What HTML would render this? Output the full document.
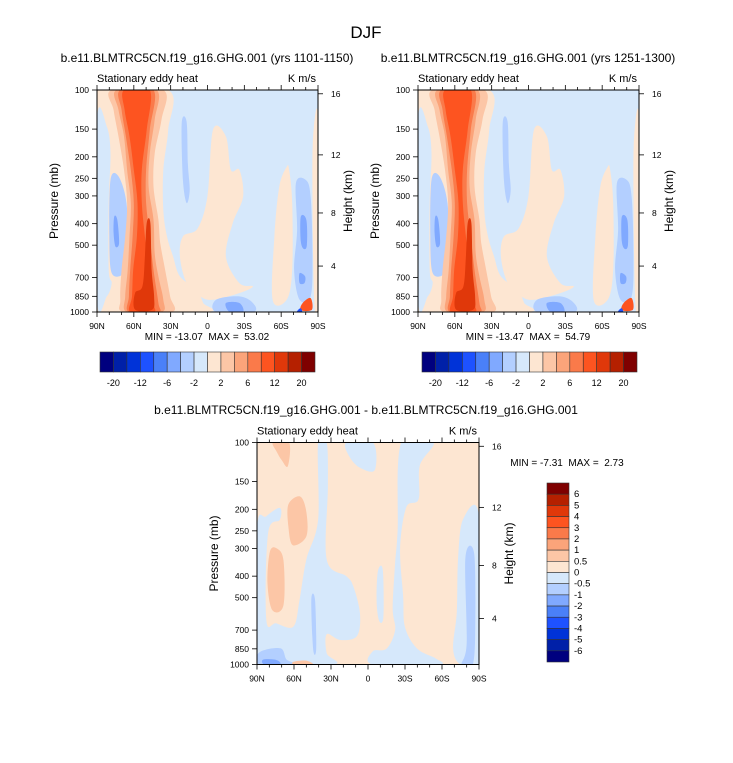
<!DOCTYPE html>
<html><head><meta charset="utf-8">
<style>
body{margin:0;background:#fff;}
svg text{font-family:"Liberation Sans",Arial,sans-serif;fill:#000;white-space:pre;}
</style></head>
<body>
<svg id="fig" width="733" height="758" viewBox="0 0 733 758" xmlns="http://www.w3.org/2000/svg">
<text x="366" y="38" font-size="17" text-anchor="middle">DJF</text>
<text x="207" y="62" font-size="12" text-anchor="middle">b.e11.BLMTRC5CN.f19_g16.GHG.001 (yrs 1101-1150)</text>
<text x="528" y="62" font-size="12" text-anchor="middle">b.e11.BLMTRC5CN.f19_g16.GHG.001 (yrs 1251-1300)</text>
<text x="366" y="414" font-size="12" text-anchor="middle">b.e11.BLMTRC5CN.f19_g16.GHG.001 - b.e11.BLMTRC5CN.f19_g16.GHG.001</text>
<g id="layer"></g>
</svg>
<script>
// ---- data ----
const colors=["#00007f","#0020a8","#0033d8","#1e52ff","#4a80f8","#80a9ff","#b3cfff","#d6e8fb","#fde6d2","#fcc6a6","#fba47a","#fa7a4a","#fd5420","#e0380a","#b52000","#7f0000"];
const topCbLabels=["-20","-12","-6","-2","2","6","12","20"];
const diffCbLabels=["6","5","4","3","2","1","0.5","0","-0.5","-1","-2","-3","-4","-5","-6"];
const latTicks=[90,60,30,0,-30,-60,-90];
const latTickLabels=["90N","60N","30N","0","30S","60S","90S"];
const presTicks=[100,150,200,250,300,400,500,700,850,1000];
const heightTicks=[16,12,8,4];
const heightPres=[104,196,358,621];
const minmax1=["-13.07","53.02"], minmax2=["-13.47","54.79"], minmaxD=["-7.31","2.73"];

// contour regions: [colorIndex, [[lat,p],...]]
const baseShapes=[
[8,[[90,100],[32,100],[32,151],[36,229],[36,347],[33,457],[28,563],[22.5,691],[9,794],[3.5,911],[1,1000],[90,1000]]],
[8,[[-4.5,151],[-15,162],[-19,229],[-26,229],[-29,302],[-20.5,398],[-15,563],[-26,741],[-37,767],[-26,822],[-4.5,881],[6,851],[17,741],[22.5,563],[20,457],[8,420],[0,300]]],
[8,[[-64.5,222],[-66.5,229],[-69,323],[-69,645],[-64.5,881],[-53,881],[-54.5,457],[-58.5,272]]],
[8,[[-86,162],[-90,136],[-90,911],[-87,911],[-85.5,323]]],
[7,[[90,136],[82,146],[79,193],[80.5,323],[80.5,645],[78,741],[82,851],[90,881]]],
[6,[[79,254],[72.5,245],[66,323],[65,544],[68,668],[78,668],[80,457]]],
[5,[[76,372],[73.5,384],[72,489],[75,507],[76.5,440]]],
[9,[[78,100],[36,100],[37.5,136],[43,193],[44,272],[40,384],[38.5,489],[34.5,645],[30.5,851],[29,1000],[68,1000],[71,881],[70,645],[67,457],[65.5,323],[68,229],[72.5,162],[76.5,123]]],
[10,[[74,100],[41.5,100],[43,136],[47,193],[48,272],[44,384],[43,544],[40,691],[36,881],[37.5,1000],[65.5,1000],[67,851],[65,645],[63.5,457],[62.5,323],[65.5,229],[68,162],[72.5,123]]],
[11,[[71,100],[44,100],[47,151],[50,229],[50,323],[47,457],[44,645],[40,911],[40,1000],[64,1000],[64,851],[63,645],[61,457],[60,323],[62.5,229],[66.5,162],[70,123]]],
[12,[[68,100],[47,100],[49.5,151],[53.5,229],[53.5,323],[51,457],[48,645],[44,911],[44,1000],[63,1000],[61.5,851],[60.5,645],[57.5,457],[57,323],[60,229],[63.5,162],[67.5,123]]],
[13,[[49.5,398],[46.5,398],[45.5,645],[43.5,851],[45,975],[59,975],[59,822],[53,767],[51,563]]],
[6,[[-72,263],[-80,254],[-84,302],[-85.5,563],[-84,851],[-75,881],[-70.5,645],[-73,427]]],
[5,[[-76,372],[-80.5,384],[-81,498],[-78.5,520],[-76,480]]],
[5,[[-75,668],[-79.5,691],[-79,741],[-75,741]]],
[6,[[-7,881],[-26,851],[-37,911],[-37,1000],[-7,1000]]],
[5,[[-15,911],[-26,911],[-29,1000],[-18,1000]]],
[6,[[21,141],[17,139],[16,216],[14.5,282],[17,323],[20,254]]],
[12,[[-77.5,911],[-84,866],[-85,977],[-76,980]]],
[3,[[-74,975],[-76,962],[-77,1000],[-73,1000]]]
];
const diffShapes=[
[7,[[90,245],[82.5,215],[71.5,197],[71.5,223],[81,256],[82.5,628],[74.5,652],[60.5,675],[55.5,510],[50,337],[40.5,223],[40.5,100],[33.5,100],[32.5,158],[33.5,337],[17.5,400],[12,443],[6.5,590],[9,745],[22.5,776],[33.5,730],[33.5,890],[28,1000],[90,1000]]],
[7,[[17.5,100],[-4,100],[-5.5,133],[6.5,130],[15,116]]],
[7,[[-27,100],[-53,100],[-42,127],[-41,180],[-31,196],[-26,300],[-28.5,490],[-30,680],[-40,850],[-55,940],[-57,1000],[-4,1000],[-4,870],[-15,850],[-22,700],[-20,560],[-22,350],[-24,250]]],
[7,[[-8,380],[-12,375],[-12.5,610],[-9,635],[-7,520]]],
[7,[[-77,222],[-90,215],[-90,1000],[-75,1000],[-69,850],[-72,580],[-73,337]]],
[6,[[88,880],[71,845],[66,950],[58,1000],[88,1000]]],
[5,[[85,950],[74,955],[71.5,1000],[84,1000]]],
[6,[[46,510],[43,510],[42,850],[44.5,850]]],
[6,[[-79,330],[-86,315],[-87,640],[-85,1000],[-76,1000],[-80,800]]],
[9,[[64.5,190],[55,175],[50,205],[50,265],[61,290],[64.5,240]]],
[9,[[79.5,310],[74,300],[68.5,340],[68.5,540],[77.5,570],[81.5,430]]],
[9,[[77,100],[64,100],[65,128],[70,120],[74,110]]],
[9,[[60,970],[50,960],[45,1000],[60,1000]]]
];

// ---- drawing ----
const NS="http://www.w3.org/2000/svg";
const root=document.getElementById('layer');
function mk(tag,attrs,parent){const e=document.createElementNS(NS,tag);for(const k in attrs)e.setAttribute(k,attrs[k]);(parent||root).appendChild(e);return e;}
function smooth(pts){
  const n=pts.length;let d=`M${pts[0][0].toFixed(1)},${pts[0][1].toFixed(1)}`;
  for(let i=0;i<n;i++){
    const p0=pts[(i-1+n)%n],p1=pts[i],p2=pts[(i+1)%n],p3=pts[(i+2)%n];
    const c1=[p1[0]+(p2[0]-p0[0])/6,p1[1]+(p2[1]-p0[1])/6];
    const c2=[p2[0]-(p3[0]-p1[0])/6,p2[1]-(p3[1]-p1[1])/6];
    d+=`C${c1[0].toFixed(1)},${c1[1].toFixed(1)} ${c2[0].toFixed(1)},${c2[1].toFixed(1)} ${p2[0].toFixed(1)},${p2[1].toFixed(1)}`;
  }
  return d+'Z';
}
let clipId=0;
function panel(name,L,T,W,H,bgIdx,shapes,mm,mmPos){
  const g=mk('g',{});
  
  
  const xs=lat=>L+(90-lat)/180*W;
  const ys=p=>T+H*(Math.log10(p)-2);
  const cid='clip'+(clipId++);
  const cp=mk('clipPath',{id:cid},g);mk('rect',{x:L,y:T,width:W,height:H},cp);
  const plot=mk('g',{'clip-path':`url(#${cid})`},g);
  const bg=mk('rect',{x:L,y:T,width:W,height:H,fill:colors[bgIdx]},plot);
  
  
  shapes.forEach(s=>{
    const pts=s[1].map(q=>[xs(q[0]),ys(q[1])]);
    const path=mk('path',{d:smooth(pts),fill:colors[s[0]]},plot);
    
    
  });
  mk('rect',{x:L,y:T,width:W,height:H,fill:'none',stroke:'#000','stroke-width':1},g);
  for(let lat=90;lat>=-90;lat-=10){
    const x=xs(lat),maj=lat%30===0;
    mk('line',{x1:x,x2:x,y1:T+H,y2:T+H+(maj?5:3),stroke:'#000','stroke-width':0.8},g);
    mk('line',{x1:x,x2:x,y1:T,y2:T-(maj?5:3),stroke:'#000','stroke-width':0.8},g);
  }
  latTicks.forEach((lat,i)=>{
    const t=mk('text',{x:xs(lat),y:T+H+17,'font-size':8.5,'text-anchor':'middle'},g);t.textContent=latTickLabels[i];
    
    
  });
  presTicks.forEach(p=>{
    const y=ys(p);
    mk('line',{x1:L-5,x2:L,y1:y,y2:y,stroke:'#000','stroke-width':0.8},g);
    const t=mk('text',{x:L-8,y:y+3,'font-size':8.5,'text-anchor':'end'},g);t.textContent=p;
    
    
  });
  heightTicks.forEach((h,i)=>{
    const y=ys(heightPres[i]);
    mk('line',{x1:L+W,x2:L+W+5,y1:y,y2:y,stroke:'#000','stroke-width':0.8},g);
    const t=mk('text',{x:L+W+13,y:y+3,'font-size':8.5},g);t.textContent=h;
    
    
  });
  const yt=mk('text',{x:0,y:0,'font-size':12,'text-anchor':'middle',transform:`translate(${L-39},${T+H/2}) rotate(-90)`},g);
  yt.textContent='Pressure (mb)';
  
  
  const ht=mk('text',{x:0,y:0,'font-size':12,'text-anchor':'middle',transform:`translate(${L+W+34},${T+H/2}) rotate(-90)`},g);
  ht.textContent='Height (km)';
  
  
  const st=mk('text',{x:L,y:T-8,'font-size':11},g);st.textContent='Stationary eddy heat';
  
  
  const un=mk('text',{x:L+W-2,y:T-8,'font-size':11,'text-anchor':'end'},g);un.textContent='K m/s';
  
  
  const m=mk('text',{x:mmPos[0],y:mmPos[1],'font-size':10,'text-anchor':mmPos[2]},g);
  m.textContent='MIN = '+mm[0]+'  MAX =  '+mm[1];
  
  
}
function hColorbar(name,L,T,W,H){
  const g=mk('g',{});
  
  
  const bw=W/colors.length;
  colors.forEach((c,i)=>{
    const r=mk('rect',{x:L+i*bw,y:T,width:bw,height:H,fill:c,stroke:'#333','stroke-width':0.6},g);
    
    
  });
  topCbLabels.forEach((lb,i)=>{
    const t=mk('text',{x:L+(1+2*i)*bw,y:T+H+14,'font-size':9,'text-anchor':'middle'},g);t.textContent=lb;
    
    
  });
}
function vColorbar(name,L,T,W,H){
  const g=mk('g',{});
  
  
  const bh=H/colors.length;
  colors.slice().reverse().forEach((c,i)=>{
    const r=mk('rect',{x:L,y:T+i*bh,width:W,height:bh,fill:c,stroke:'#333','stroke-width':0.6},g);
    
    
  });
  diffCbLabels.forEach((lb,i)=>{
    const t=mk('text',{x:L+W+5,y:T+(i+1)*bh+3,'font-size':9.5},g);t.textContent=lb;
    
    
  });
}
panel('left-panel',97,90,221,222,7,baseShapes,minmax1,[207,340,'middle']);
panel('right-panel',418,90,221,222,7,baseShapes,minmax2,[528,340,'middle']);
panel('diff-panel',257,442.5,222,222,8,diffShapes,minmaxD,[567,466,'middle']);
hColorbar('left-colorbar',100,352,215,20);
hColorbar('right-colorbar',422,352,215,20);
vColorbar('diff-colorbar',547,483,22,179);
</script>
</body></html>
